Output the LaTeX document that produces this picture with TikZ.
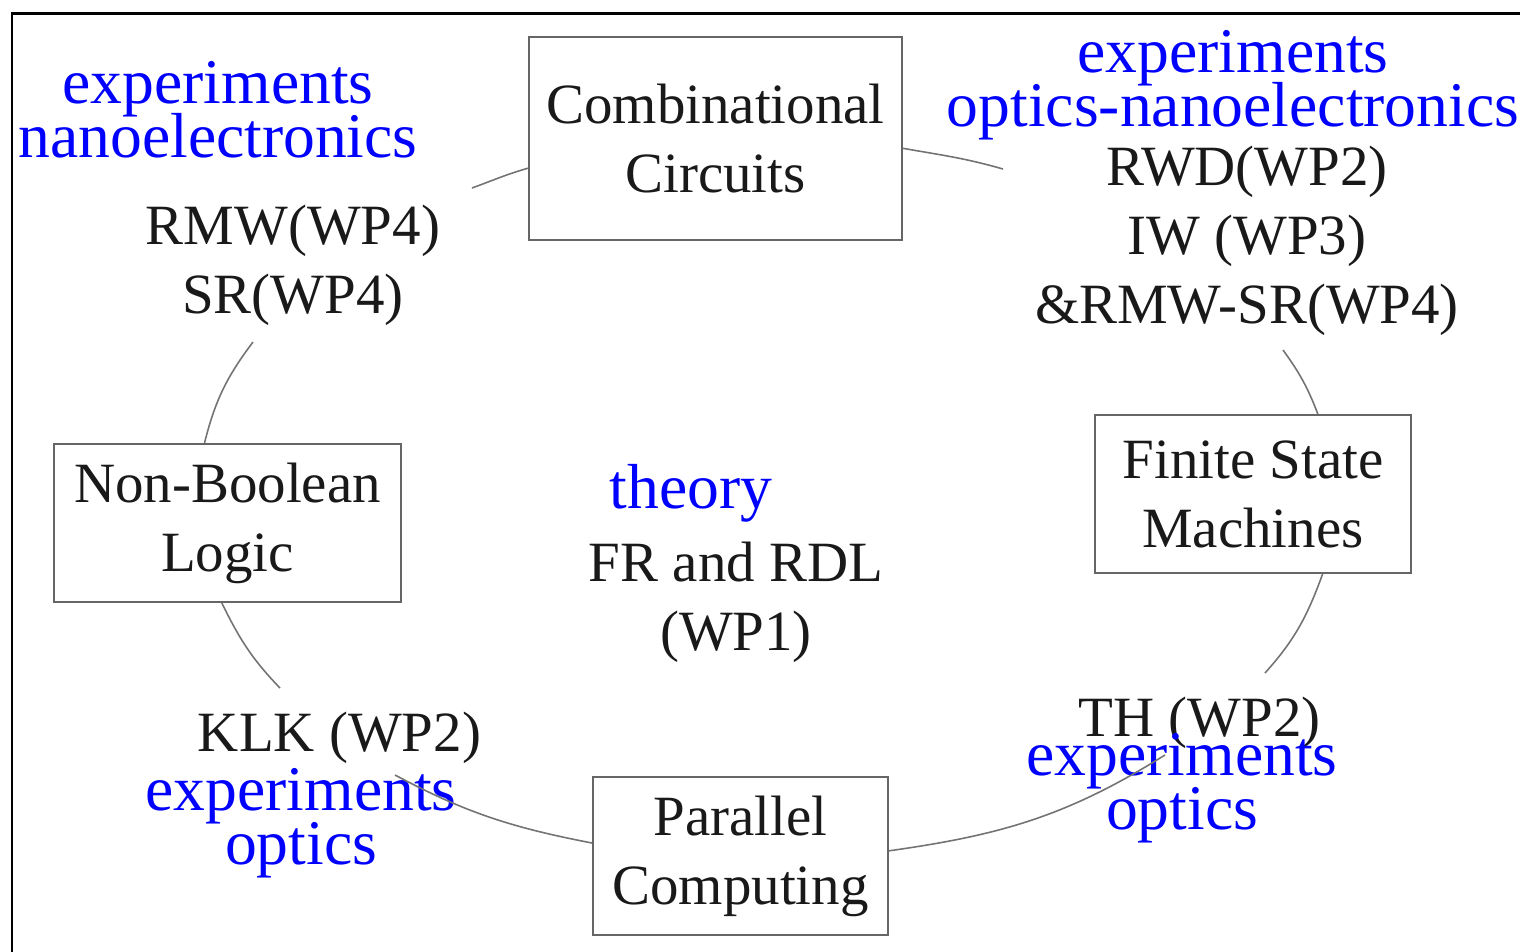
\documentclass[tikz,border=0pt]{standalone}
\usepackage{fontspec}
\setmainfont{Liberation Serif}
\usetikzlibrary{positioning}

\begin{document}
\begin{tikzpicture}[
  box/.style={draw=black!60, line width=0.6pt, align=center, inner sep=0pt, text=black!90, font={\fontsize{16.2}{19.6}\selectfont}},
  wplabel/.style={align=center, inner sep=0pt, text=black!90, font={\fontsize{16.2}{19.6}\selectfont}},
  explabel/.style={align=center, inner sep=0pt, text=blue, font={\fontsize{18.1}{15.4}\selectfont\lineskiplimit=-20pt\relax}},
  link/.style={draw=black!55, line width=0.45pt}
]
\useasboundingbox (0,0) rectangle (15.2,-9.52);
\draw[line width=0.85pt] (15.2,-0.13) -- (0.12,-0.13) -- (0.12,-9.52);

% the four boxes
\node[box, minimum width=3.73cm, minimum height=2.03cm] (comb) at (7.155,-1.385) {Combinational\\Circuits};
\node[box, minimum width=3.16cm, minimum height=1.58cm] (fsm) at (12.53,-4.94) {Finite State\\Machines};
\node[box, minimum width=2.95cm, minimum height=1.58cm] (par) at (7.405,-8.56) {Parallel\\Computing};
\node[box, minimum width=3.47cm, minimum height=1.58cm] (nbl) at (2.275,-5.23) {Non-Boolean\\Logic};

% labels
\node[explabel] (expnano) at (2.18,-1.10) {experiments\\nanoelectronics};
\node[wplabel] (rmw) at (2.93,-2.655) {RMW(WP4)\\SR(WP4)};
\node[explabel] (expopt) at (12.33,-0.85) {experiments\\optics-nanoelectronics};
\node[wplabel] (rwd) at (12.47,-2.41) {RWD(WP2)\\IW (WP3)\\\&RMW-SR(WP4)};
\node[explabel] (theory) at (6.91,-4.93) {theory};
\node[wplabel] (frrdl) at (7.36,-6.02) {FR and RDL\\(WP1)};
\node[wplabel] (klk) at (3.395,-7.375) {KLK (WP2)};
\node[explabel] (expklk) at (3.01,-8.23) {experiments\\optics};
\node[wplabel] (th) at (11.995,-7.225) {TH (WP2)};
\node[explabel] (expth) at (11.82,-7.88) {experiments\\optics};

% free ends of the ring
\coordinate (rmwend) at (4.72,-1.88);
\coordinate (rwdend) at (10.03,-1.69);
\coordinate (rwdfoot) at (12.83,-3.50);
\coordinate (thend) at (12.65,-6.73);
\coordinate (thfoot) at (11.65,-7.55);
\coordinate (klkend) at (3.95,-7.75);
\coordinate (klkhead) at (2.80,-6.88);
\coordinate (rmwfoot) at (2.53,-3.42);

\draw[link] (comb.189) to[out=196,in=20] (rmwend);
\draw[link] (comb.-3) to[out=-10,in=164] (rwdend);
\draw[link] (fsm.51) to[out=111,in=-54] (rwdfoot);
\draw[link] (fsm.-49) to[out=-110,in=48] (thend);
\draw[link] (par.2) to[out=8,in=212] (thfoot);
\draw[link] (par.175) to[out=169,in=-28] (klkend);
\draw[link] (nbl.-94) to[out=-64,in=134] (klkhead);
\draw[link] (nbl.106) to[out=76,in=-127] (rmwfoot);
\end{tikzpicture}
\end{document}
